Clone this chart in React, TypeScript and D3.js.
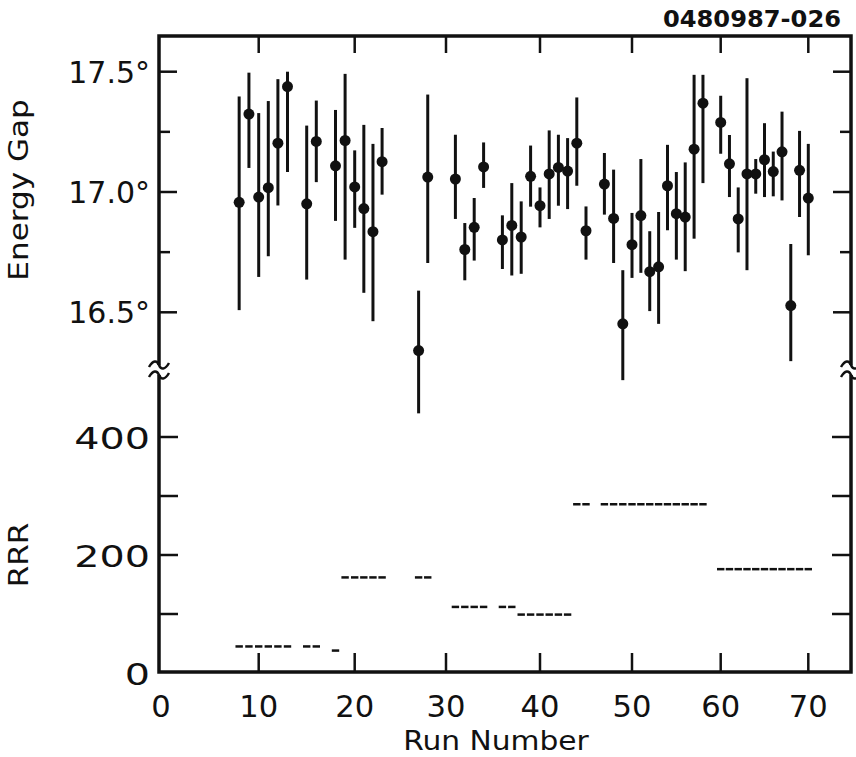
import React from "react";
import * as d3 from "d3";

// ---------- data ----------
const runs = [8, 9, 10, 11, 12, 13, 15, 16, 18, 19, 20, 21, 22, 23, 27, 28, 31, 32, 33, 34, 36, 37, 38, 39, 40, 41, 42, 43, 44, 45, 47, 48, 49, 50, 51, 52, 53, 54, 55, 56, 57, 58, 60, 61, 62, 63, 64, 65, 66, 67, 68, 69, 70];

const gap = [16.957, 17.324, 16.979, 17.018, 17.203, 17.438, 16.951, 17.21, 17.109, 17.214, 17.021, 16.931, 16.835, 17.126, 16.341, 17.062, 17.054, 16.761, 16.853, 17.104, 16.801, 16.861, 16.813, 17.065, 16.943, 17.075, 17.102, 17.087, 17.203, 16.839, 17.033, 16.89, 16.452, 16.781, 16.902, 16.669, 16.689, 17.026, 16.91, 16.896, 17.178, 17.369, 17.289, 17.117, 16.888, 17.075, 17.075, 17.134, 17.085, 17.167, 16.528, 17.09, 16.975];

const gapHigh = [17.397, 17.496, 17.328, 17.378, 17.469, 17.5, 17.276, 17.38, 17.341, 17.491, 17.173, 17.279, 17.2, 17.266, 16.59, 17.405, 17.238, 16.871, 16.975, 17.206, 16.903, 17.037, 16.961, 17.193, 17.019, 17.256, 17.238, 17.224, 17.393, 16.94, 17.162, 17.093, 16.675, 16.913, 17.137, 16.837, 16.917, 17.196, 17.083, 17.123, 17.487, 17.487, 17.4, 17.237, 17.019, 17.473, 17.137, 17.286, 17.168, 17.334, 16.784, 17.254, 17.2];

const gapLow = [16.509, 17.1, 16.647, 16.733, 16.944, 17.083, 16.636, 17.041, 16.88, 16.719, 16.851, 16.581, 16.463, 16.989, 16.08, 16.705, 16.888, 16.633, 16.715, 17.017, 16.68, 16.653, 16.66, 16.939, 16.853, 16.888, 16.943, 16.929, 17.026, 16.719, 16.906, 16.705, 16.218, 16.643, 16.664, 16.505, 16.452, 16.841, 16.719, 16.671, 16.806, 17.037, 17.159, 16.979, 16.749, 16.675, 16.993, 16.979, 16.982, 16.965, 16.297, 16.896, 16.737];

const rrr = [45, 45, 45, 45, 45, 45, 45, 45, 38, 162, 162, 162, 162, 162, 162, 162, 112, 112, 112, 112, 112, 112, 99, 99, 99, 99, 99, 99, 286, 286, 286, 286, 286, 286, 286, 286, 286, 286, 286, 286, 286, 286, 176, 176, 176, 176, 176, 176, 176, 176, 176, 176, 176];

const xTicks = [0, 10, 20, 30, 40, 50, 60, 70];
const gapTicks = [16.5, 16.75, 17.0, 17.25, 17.5];
const gapLabels = [
  { v: 17.5, t: "17.5°" },
  { v: 17.0, t: "17.0°" },
  { v: 16.5, t: "16.5°" },
];
const rrrTicks = [100, 200, 300, 400];
const rrrLabels = [0, 200, 400];
const figureId = "0480987-026";

// ---------- layout ----------
const L = 159, R = 851, T = 36, B = 672;
const FONT = "DejaVu Sans";

const x = d3
  .scaleLinear()
  .domain([-0.2, 0, 10, 20, 30, 40, 50, 60, 70, 75])
  .range([L, 161, 258.7, 354.7, 446, 540, 632, 720.7, 808.3, R]);
const yGap = d3.scaleLinear().domain([16.5, 17.5]).range([312.3, 71.7]);
const yRRR = d3.scaleLinear().domain([0, 400]).range([673, 437]);

function Txt({ x, y, anchor = "middle", size = 30, sx = 1.2, rotate = 0, weight = "normal", children }: any) {
  return (
    <text
      transform={`translate(${x},${y}) rotate(${rotate}) scale(${sx},1)`}
      textAnchor={anchor}
      fontFamily={FONT}
      fontSize={size}
      fontWeight={weight}
      fill="#111"
    >
      {children}
    </text>
  );
}

export default function App() {
  const breakY = 370;
  const tilde = (cx: number, cy: number) =>
    `M${cx - 10},${cy + 2} C${cx - 6},${cy - 5} ${cx - 2},${cy - 5} ${cx},${cy} S${cx + 6},${cy + 5} ${cx + 10},${cy - 2}`;
  const stroke = "#111";
  return (
    <svg width={856} height={757} style={{ position: "absolute", left: 0, top: 0 }}>
      <rect width={856} height={757} fill="#fff" />

      {/* frame */}
      <rect x={L} y={T} width={R - L} height={B - T} fill="none" stroke={stroke} strokeWidth={3.5} />

      {/* x ticks bottom & top */}
      {xTicks.filter((t) => t > 0).map((t) => (
        <g key={"xt" + t}>
          <line x1={x(t)} x2={x(t)} y1={B} y2={B - 19} stroke={stroke} strokeWidth={2.5} />
          <line x1={x(t)} x2={x(t)} y1={T} y2={T + 17} stroke={stroke} strokeWidth={2.5} />
        </g>
      ))}
      {xTicks.map((t) => (
        <Txt key={"xl" + t} x={x(t)} y={717} size={30} sx={1.02}>
          {t}
        </Txt>
      ))}

      {/* gap y ticks */}
      {gapTicks.map((t) => {
        const len = t === 17.25 || t === 16.75 ? 11 : 18;
        return (
          <g key={"gt" + t}>
            <line x1={L} x2={L + len} y1={yGap(t)} y2={yGap(t)} stroke={stroke} strokeWidth={2.5} />
            <line x1={R} x2={R - len} y1={yGap(t)} y2={yGap(t)} stroke={stroke} strokeWidth={2.5} />
          </g>
        );
      })}
      {gapLabels.map((d) => (
        <Txt key={"gl" + d.v} x={150} y={yGap(d.v) + 11} anchor="end" size={30} sx={1.0}>
          {d.t}
        </Txt>
      ))}

      {/* rrr y ticks */}
      {rrrTicks.map((t) => (
        <g key={"rt" + t}>
          <line x1={L} x2={L + 19} y1={yRRR(t)} y2={yRRR(t)} stroke={stroke} strokeWidth={2.5} />
          <line x1={R} x2={R - 19} y1={yRRR(t)} y2={yRRR(t)} stroke={stroke} strokeWidth={2.5} />
        </g>
      ))}
      {rrrLabels.map((t) => (
        <Txt key={"rl" + t} x={150} y={yRRR(t) + 12} anchor="end" size={31} sx={1.28}>
          {t}
        </Txt>
      ))}

      {/* axis breaks */}
      {[L, R].map((cx) => (
        <g key={"br" + cx}>
          <rect x={cx - 4} y={breakY - 5} width={8} height={10} fill="#fff" />
          <path d={tilde(cx, breakY - 5)} fill="none" stroke={stroke} strokeWidth={2.5} />
          <path d={tilde(cx, breakY + 5)} fill="none" stroke={stroke} strokeWidth={2.5} />
        </g>
      ))}

      {/* energy gap error bars */}
      {runs.map((r, i) => (
        <g key={"p" + r}>
          <line x1={x(r)} x2={x(r)} y1={yGap(gapLow[i])} y2={yGap(gapHigh[i])} stroke={stroke} strokeWidth={3} />
          <circle cx={x(r)} cy={yGap(gap[i])} r={5.5} fill={stroke} />
        </g>
      ))}

      {/* RRR dashes */}
      {runs.map((r, i) => (
        <line
          key={"d" + r}
          x1={x(r) - 3.7}
          x2={x(r) + 3.7}
          y1={yRRR(rrr[i])}
          y2={yRRR(rrr[i])}
          stroke={stroke}
          strokeWidth={2.5}
        />
      ))}

      {/* axis titles */}
      <Txt x={496} y={750} size={27} sx={1.1}>Run Number</Txt>
      <Txt x={28} y={190} size={27} sx={1.15} rotate={-90}>Energy Gap</Txt>
      <Txt x={28} y={555} size={27} sx={1.15} rotate={-90}>RRR</Txt>
      <Txt x={841} y={27} anchor="end" size={23} sx={1.05} weight="bold">{figureId}</Txt>
    </svg>
  );
}
